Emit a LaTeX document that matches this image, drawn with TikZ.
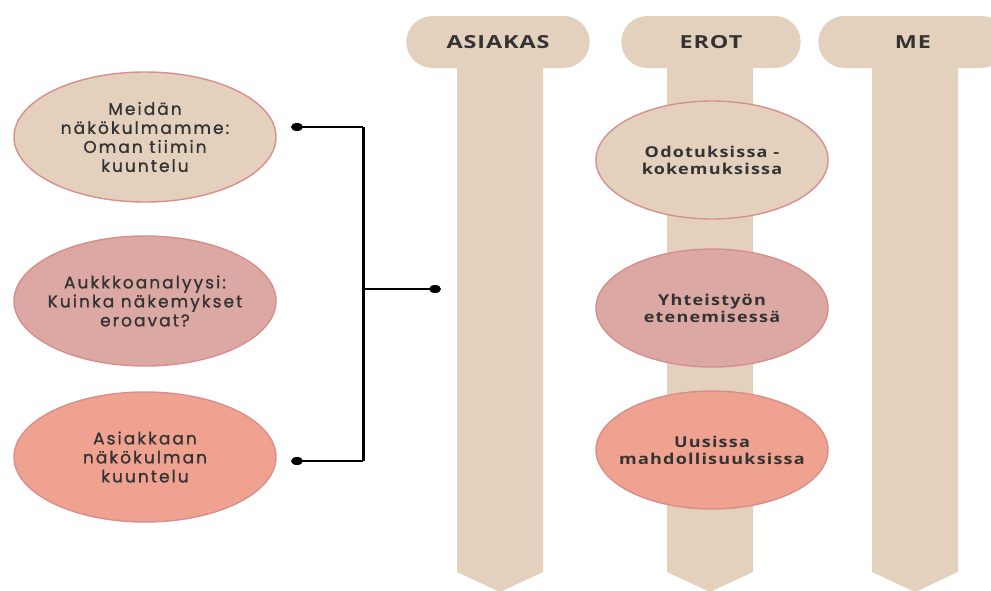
\documentclass[tikz,border=0pt]{standalone}
\usepackage{fontspec}
\usetikzlibrary{positioning,shapes.geometric,shapes.misc}
\newfontfamily\roundfont{Poppins}[LetterSpace=12,FakeBold=1]
\newfontfamily\widesans{Open Sans}[LetterSpace=8,FakeStretch=1.2]
\newfontfamily\headsans{Open Sans}[LetterSpace=5,FakeStretch=1.3]
\definecolor{beige}{HTML}{E3D1BE}
\definecolor{rose}{HTML}{DBA8A3}
\definecolor{salmon}{HTML}{F0A291}
\definecolor{rim}{HTML}{D98E8C}
\definecolor{ink}{HTML}{333333}
\tikzset{bubble/.style = {ellipse,draw=rim,line width=1.4pt,text=ink,align=center,inner ysep=0pt,inner xsep=-25pt},
         leftbubble/.style = {bubble,minimum width=262pt,minimum height=130pt,
                              font=\roundfont\fontsize{17}{19}\selectfont},
         rightbubble/.style = {bubble,minimum width=232pt,minimum height=118pt,
                               font=\widesans\bfseries\fontsize{15}{17}\selectfont},
         pill/.style = {rounded rectangle,fill=beige,minimum height=52pt,text=ink,
                        font=\headsans\bfseries\fontsize{18}{20}\selectfont},
         dot/.style = {ellipse,fill=black,inner sep=0pt,minimum width=12pt,minimum height=8pt}}

\begin{document}
\begin{tikzpicture}[x=1pt,y=-1pt]
    \useasboundingbox (0,0) rectangle (991,590);
    \clip (0,0) rectangle (991,590);

    \foreach \cx in {500,710,915}
        \fill[beige] (\cx-43,60) -- (\cx+43,60) -- (\cx+43,572) -- (\cx,592) -- (\cx-43,572) -- cycle;

    \node [pill, minimum width=190pt] (asiakas) at (498,42) {ASIAKAS};
    \node [pill, minimum width=186pt] (erot)    at (711,42) {EROT};
    \node [pill, minimum width=196pt] (me)      at (913,42) {ME};

    \node [leftbubble, fill=beige]  (meidan)    at (145,137) {Meidän\\näkökulmamme:\\Oman tiimin\\kuuntelu};
    \node [leftbubble, fill=rose]   (aukko)     at (145,301) {Aukkkoanalyysi:\\Kuinka näkemykset\\eroavat?};
    \node [leftbubble, fill=salmon] (asiakkaan) at (145,457) {Asiakkaan\\näkökulman\\kuuntelu};

    \node [rightbubble, fill=beige]  (odotus)  at (712,160) {Odotuksissa -\\kokemuksissa};
    \node [rightbubble, fill=rose]   (yhteis)  at (712,308) {Yhteistyön\\etenemisessä};
    \node [rightbubble, fill=salmon] (uusi)    at (712,450) {Uusissa\\mahdollisuuksissa};

    \node [dot] (dtop) at (297,127) {};
    \node [dot] (dbot) at (297,461) {};
    \node [dot] (dmid) at (435,289) {};
    \coordinate (ktop) at (363,127);
    \coordinate (kbot) at (363,461);
    \coordinate (kmid) at (363,289);
    \draw [line width=1.8pt] (dtop.center) -- (ktop);
    \draw [line width=1.8pt] (dbot.center) -- (kbot);
    \draw [line width=3pt] (ktop) -- (kbot);
    \draw [line width=1.8pt] (kmid) -- (dmid.center);
\end{tikzpicture}
\end{document}
